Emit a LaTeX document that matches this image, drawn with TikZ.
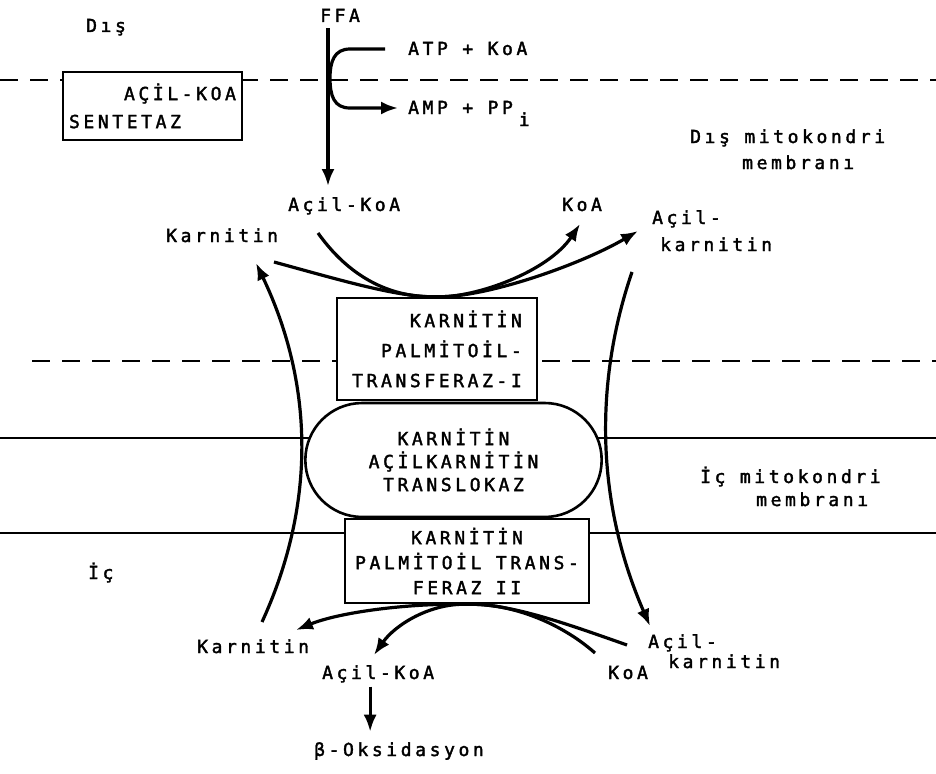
\documentclass[tikz,border=0pt]{standalone}
\usepackage{fontspec}
\newfontfamily\lblfont[LetterSpace=20,FakeBold=2]{DejaVu Sans Mono}
\usetikzlibrary{arrows.meta,shapes.misc}

\begin{document}
\begin{tikzpicture}[x=1pt,y=-1pt,
        lbl/.style={font=\fontsize{18}{20}\lblfont, inner sep=0pt, anchor=base west},
        enz/.style={draw, fill=white, line width=2.6pt, font=\fontsize{18}{#1}\lblfont},
        flow/.style={line width=3.2pt, -{Latex[length=17pt,width=13pt]}},
        memb/.style={line width=2.2pt},
        dmemb/.style={line width=2.6pt, dash pattern=on 18pt off 12pt}]
        \useasboundingbox (0,0) rectangle (936,773);
        \draw[dmemb] (0,80)  -- (936,80);
        \draw[dmemb] (32,361) -- (936,361);
        \draw[memb ] (0,438) -- (936,438);
        \draw[memb ] (0,533) -- (936,533);

        \node[enz=28, minimum width=179pt, minimum height=68pt, align=right] (sent) at (152.5,106) {AÇİL-KOA\\SENTETAZ\hspace*{55pt}};
        \node[enz=30, minimum width=200pt, minimum height=102pt, align=right] (cpt1) at (437,349) {KARNİTİN\\PALMİTOİL-\\TRANSFERAZ-I};
        \node[enz=23, rounded rectangle, minimum width=303pt, minimum height=114pt, align=center] (transl) at (453.5,460) {KARNİTİN\\AÇİLKARNİTİN\\TRANSLOKAZ};
        \node[enz=25, minimum width=244pt, minimum height=84pt, align=center] (cpt2) at (467,561) {KARNİTİN\\PALMİTOİL TRANS-\\FERAZ II};

        \node[lbl] (dis)       at (86,32)   {Dış};
        \node[lbl] (ffa)       at (320,22)  {FFA};
        \node[lbl] (atp)       at (408,55)  {ATP + KoA};
        \node[lbl] (amp)       at (408,114) {AMP + PP\hspace{6pt}\raisebox{-12pt}{i}};
        \node[lbl] (dismem)    at (690,143) {Dış mitokondri};
        \node[lbl] (dismemb)   at (742,169) {membranı};
        \node[lbl] (acoaout)   at (288,211) {Açil-KoA};
        \node[lbl] (koaout)    at (562,211) {KoA};
        \node[lbl] (karnout)   at (166,242) {Karnitin};
        \node[lbl] (akarnout)  at (652,224) {Açil-};
        \node[lbl] (akarnoutb) at (660,251) {karnitin};
        \node[lbl] (icmem)     at (700,483) {İç mitokondri};
        \node[lbl] (icmemb)    at (756,506) {membranı};
        \node[lbl] (ic)        at (88,579)  {İç};
        \node[lbl] (karnin)    at (197,653) {Karnitin};
        \node[lbl] (acoain)    at (322,679) {Açil-KoA};
        \node[lbl] (koain)     at (608,679) {KoA};
        \node[lbl] (akarnin)   at (648,648) {Açil-};
        \node[lbl] (akarninb)  at (668,668) {karnitin};
        \node[lbl] (boks)      at (314,756) {β-Oksidasyon};

        % FFA -> Acil-KoA
        \coordinate (ffatip) at (328,186);
        \coordinate (atpend) at (385,49);
        \coordinate (amptip) at (398,108);
        \draw[flow, shorten <=6pt] (ffa.south -| ffatip) -- (ffatip);
        \draw[flow] (atpend) -- (350,49) .. controls (334,49) and (330,62) .. (330,78)
                .. controls (330,96) and (334,108) .. (350,108) -- (amptip);

        % dis taraf
        \coordinate (a1)  at (318,233);
        \coordinate (k1)  at (580,224);
        \coordinate (c1)  at (274,262);
        \coordinate (ak1) at (638,231);
        \draw[flow] (a1) .. controls (355,285) and (400,298) .. (cpt1.north) .. controls (475,298) and (548,272) .. (k1);
        \draw[flow] (c1) .. controls (340,280) and (400,298) .. (cpt1.north) .. controls (485,298) and (580,265) .. (ak1);

        % translokaz
        \coordinate (lbot) at (262,622);
        \coordinate (ltop) at (256,263);
        \coordinate (rtop) at (632,272);
        \coordinate (rbot) at (650,626);
        \draw[flow] (lbot) .. controls (318,500) and (312,380) .. (ltop);
        \draw[flow] (rtop) .. controls (595,380) and (595,500) .. (rbot);

        % ic taraf
        \coordinate (ak2) at (627,645);
        \coordinate (c2)  at (296,630);
        \coordinate (k2)  at (595,653);
        \coordinate (a2)  at (374,655);
        \draw[flow] (ak2) .. controls (570,625) and (510,603) .. (cpt2.south) .. controls (410,603) and (340,612) .. (c2);
        \draw[flow] (k2) .. controls (560,622) and (510,603) .. (cpt2.south) .. controls (430,603) and (395,625) .. (a2);
        \draw[flow, shorten <=4pt, shorten >=10pt] ([xshift=-8pt]acoain.south) -- ([xshift=-8pt]acoain.south |- boks.north);
      \end{tikzpicture}
\end{document}
